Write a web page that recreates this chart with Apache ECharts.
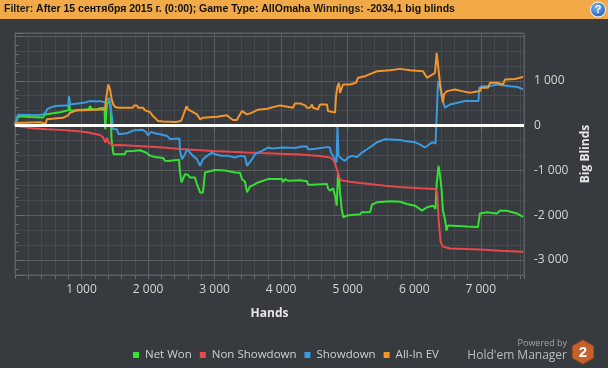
<!DOCTYPE html>
<html><head><meta charset="utf-8">
<script src="https://cdn.jsdelivr.net/npm/echarts@6/dist/echarts.min.js"></script>
<style>html,body{margin:0;padding:0;background:#373a3e;overflow:hidden}#c{width:608px;height:368px}</style>
</head><body><div id="c"></div>
<script>
// ---- data (hands, big blinds) ----
const seriesNames = ['Net Won', 'Non Showdown', 'Showdown', 'All-In EV'];
const seriesColors = ['#35e035', '#e8474b', '#3a9be0', '#f2962c'];

const netWonHands = [0,15,38,75,225,421,451,571,676,767,804,815,824,902,1052,1112,1127,1150,1232,1278,1345,1356,1371,1383,1420,1435,1450,1480,1653,1668,1774,1789,1879,1909,1969,1999,2029,2104,2225,2255,2300,2330,2465,2480,2502,2525,2555,2600,2630,2705,2735,2781,2826,2856,3006,3156,3307,3382,3412,3457,3487,3517,3532,3607,3652,3803,4013,4028,4058,4103,4284,4389,4404,4464,4479,4689,4704,4734,4780,4810,4835,4855,4870,4885,4910,4934,4960,4990,5185,5215,5336,5366,5441,5636,5787,5892,6012,6117,6192,6282,6320,6338,6365,6387,6410,6432,6462,6485,6507,6793,6958,6981,6988,7094,7244,7289,7394,7410,7545,7635];
const netWonValues = [0,60,170,210,190,180,250,275,300,330,340,620,340,345,360,370,436,370,360,390,400,-80,-60,500,540,470,-300,-640,-640,-570,-565,-540,-550,-560,-600,-640,-670,-700,-720,-786,-790,-750,-760,-1045,-1268,-1268,-1082,-1100,-1156,-1156,-1305,-1490,-1490,-1045,-990,-1000,-1045,-1050,-1193,-1250,-1490,-1480,-1360,-1305,-1268,-1193,-1190,-1260,-1190,-1230,-1220,-1240,-1320,-1320,-1290,-1300,-1400,-1452,-1400,-1564,-1786,-1045,-1190,-1490,-1860,-2045,-2045,-2008,-1980,-1934,-1934,-1760,-1711,-1690,-1700,-1748,-1786,-1896,-1822,-1786,-1860,-1300,-897,-1100,-1400,-1900,-2082,-2341,-2230,-2250,-2260,-2260,-1960,-1934,-1960,-1896,-1900,-1940,-1960,-2034];

const nonShowdownHands = [0,75,271,481,676,872,1082,1172,1278,1323,1360,1383,1405,1428,1473,1578,1774,1984,2225,2480,2735,2976,3231,3487,3682,3983,4284,4584,4734,4780,4810,4840,4870,4900,5035,5185,5336,5561,5832,6087,6321,6345,6367,6397,6432,6538,6988,7289,7635];
const nonShowdownValues = [0,-20,-60,-80,-95,-115,-150,-175,-210,-260,-378,-270,-378,-415,-437,-430,-450,-468,-490,-520,-545,-565,-585,-600,-610,-625,-645,-680,-710,-760,-850,-980,-1150,-1220,-1253,-1282,-1304,-1340,-1378,-1400,-1415,-1500,-2100,-2600,-2700,-2740,-2763,-2790,-2815];

const showdownHands = [0,15,45,75,225,331,421,466,481,526,601,767,801,809,827,977,1067,1097,1127,1157,1232,1278,1308,1353,1383,1413,1443,1458,1473,1533,1556,1683,1774,1909,1969,1999,2044,2104,2179,2285,2330,2360,2472,2480,2510,2555,2585,2630,2675,2735,2781,2811,2826,2886,2961,3006,3111,3201,3231,3307,3382,3457,3487,3517,3562,3607,3652,3712,3803,3863,4028,4208,4314,4389,4404,4464,4479,4689,4734,4749,4795,4832,4847,4862,4915,4960,5005,5065,5140,5215,5291,5366,5441,5561,5787,5862,6012,6102,6162,6207,6267,6320,6338,6353,6362,6387,6410,6432,6462,6492,6538,6568,6763,6966,6978,7019,7139,7169,7244,7259,7440,7560,7635];
const showdownValues = [0,120,240,251,235,229,250,300,362,400,436,450,450,660,473,500,520,560,547,510,540,547,525,520,560,620,590,200,-82,-82,-193,-170,-110,-90,-142,-216,-140,-171,-193,-230,-300,-280,-290,-564,-749,-638,-527,-600,-675,-749,-897,-897,-749,-675,-601,-638,-675,-675,-712,-712,-675,-690,-897,-860,-749,-638,-601,-564,-490,-512,-490,-500,-468,-468,-527,-527,-500,-480,-490,-600,-712,-823,-10,-675,-749,-786,-712,-675,-700,-601,-527,-453,-370,-304,-320,-341,-370,-437,-489,-437,-370,-400,214,807,992,900,659,548,400,437,470,511,548,548,844,881,881,918,918,881,881,860,807];

const allInEVHands = [0,15,30,376,391,466,476,496,721,736,797,827,932,1278,1353,1368,1402,1428,1453,1477,1503,1548,1774,1789,1834,1849,1924,1954,2029,2074,2119,2149,2225,2420,2495,2525,2578,2600,2675,2735,2781,2811,2826,3036,3051,3186,3231,3276,3337,3352,3382,3412,3487,3562,3607,3652,3788,3803,3983,4013,4028,4178,4208,4284,4314,4359,4389,4434,4464,4479,4554,4584,4689,4704,4810,4825,4847,4870,4885,4930,5035,5125,5155,5261,5291,5381,5441,5636,5787,5937,6132,6162,6192,6207,6312,6338,6352,6387,6410,6432,6447,6492,6613,6718,6838,6988,7004,7109,7139,7244,7259,7334,7364,7515,7590,7635];
const allInEVValues = [0,60,80,75,44,44,140,155,175,200,230,288,340,362,362,585,918,807,585,473,420,400,400,451,451,400,400,340,300,214,150,103,90,80,103,214,436,362,303,251,140,103,177,199,214,229,177,125,125,177,177,325,251,290,325,355,377,421,451,466,436,399,495,495,451,451,399,399,473,399,362,473,473,325,290,658,880,955,732,918,918,955,1066,1103,1140,1177,1214,1237,1266,1237,1214,1177,1066,1100,1177,1622,1580,955,733,511,696,770,807,770,733,770,844,844,955,955,918,918,1029,1040,1066,1089];

const xMin = 0, xMax = 7650, xMajor = 1000, xMinor = 200;
const yMin = -10000 / 3, yMax = 6200 / 3, yMinorGrid = 1000 / 3;
const yLabelValues = [-3000, -2000, -1000, 0, 1000];

const filterText = 'After 15 сентября 2015 г. (0:00); Game Type: AllOmaha';
const winningsText = '-2034,1 big blinds';

// ---- build ----
function zip(h, v) { const n = Math.min(h.length, v.length); const out = []; for (let i = 0; i < n; i++) out.push([h[i], v[i]]); return out; }
function fmt(v) {
  const r = Math.round(v);
  const s = Math.abs(r).toString().replace(/\B(?=(\d{3})+(?!\d))/g, ' ');
  return (r < 0 ? '-' : '') + s;
}
function fmtY(v) { return yLabelValues.indexOf(Math.round(v)) >= 0 ? fmt(v) : ''; }
const pairs = [[netWonHands, netWonValues], [nonShowdownHands, nonShowdownValues], [showdownHands, showdownValues], [allInEVHands, allInEVValues]];
const lineSeries = pairs.map((p, i) => ({
  name: seriesNames[i], type: 'line', xAxisIndex: 0, yAxisIndex: 0,
  data: zip(p[0], p[1]), showSymbol: false, symbol: 'none',
  lineStyle: { width: 2, color: seriesColors[i] }, itemStyle: { color: seriesColors[i] },
  z: 3, animation: false
}));
lineSeries.push({
  type: 'line', data: [], xAxisIndex: 0, yAxisIndex: 0, z: 5, silent: true,
  markLine: { symbol: 'none', silent: true, animation: false, label: { show: false },
    lineStyle: { color: '#ffffff', width: 3, type: 'solid' }, data: [{ yAxis: 0 }] }
});

const FONT = '"Open Sans", "Noto Sans", sans-serif';
const minorCol = '#46494d', majorCol = '#5a5d61', textCol = '#d6d6d6';

const chart = echarts.init(document.getElementById('c'), null, { renderer: 'canvas' });
chart.setOption({
  backgroundColor: '#373a3e',
  animation: false,
  title: {
    left: 4, top: 4, padding: 0,
    text: '{n|Filter: }{b|' + filterText + '}{n| Winnings: }{b|' + winningsText + '}',
    textStyle: { rich: {
      n: { fontFamily: '"Liberation Sans", Arial, sans-serif', fontSize: 10.5, color: '#1e1e1e' },
      b: { fontFamily: '"Liberation Sans", Arial, sans-serif', fontSize: 10.5, fontWeight: 'bold', color: '#111' }
    } }
  },
  grid: { left: 15, right: 84, top: 33, bottom: 93, show: true, borderColor: '#5c5f63', borderWidth: 1, backgroundColor: 'transparent' },
  legend: {
    data: seriesNames, left: 133, top: 349, padding: 0, icon: 'rect', itemWidth: 6, itemHeight: 6, itemGap: 8,
    textStyle: { color: '#d0d0d0', fontSize: 11.5, fontFamily: FONT, padding: [0, 0, 0, 1] },
    inactiveColor: '#777'
  },
  xAxis: [{
    type: 'value', min: xMin, max: xMax, interval: xMajor, position: 'bottom',
    name: 'Hands', nameLocation: 'middle', nameGap: 33,
    nameTextStyle: { color: '#e6e6e6', fontWeight: 'bold', fontSize: 12, fontFamily: FONT },
    axisLine: { show: false },
    axisTick: { show: true, length: 6, lineStyle: { color: '#6a6d71' } },
    axisLabel: { color: textCol, fontSize: 12, fontFamily: FONT, margin: 9, showMinLabel: false, showMaxLabel: false, formatter: fmt },
    splitLine: { show: true, lineStyle: { color: majorCol, width: 1 } }
  }, {
    type: 'value', min: 0, max: (xMax - xMin) / xMinor, interval: 1, position: 'bottom',
    axisLine: { show: false }, axisLabel: { show: false },
    axisTick: { show: true, length: 4, lineStyle: { color: '#6a6d71' } },
    splitLine: { show: true, lineStyle: { color: minorCol, width: 1 } }, z: -1
  }],
  yAxis: [{
    type: 'value', min: yMin, max: yMax, splitNumber: 5, position: 'right',
    name: 'Big Blinds', nameLocation: 'middle', nameGap: 45,
    nameTextStyle: { color: '#e6e6e6', fontWeight: 'bold', fontSize: 12, fontFamily: FONT },
    axisLine: { show: false },
    axisTick: { show: true, length: 8, lineStyle: { color: '#6a6d71' } },
    minorTick: { show: true, splitNumber: 5, length: 4, lineStyle: { color: '#6a6d71' } },
    axisLabel: { color: textCol, fontSize: 12, fontFamily: FONT, margin: 10, showMinLabel: false, showMaxLabel: false, formatter: fmtY },
    splitLine: { show: true, lineStyle: { color: majorCol, width: 1 } }
  }, {
    type: 'value', min: 0, max: (yMax - yMin) / yMinorGrid, interval: 1, position: 'right',
    axisLine: { show: false }, axisLabel: { show: false }, axisTick: { show: false },
    splitLine: { show: true, lineStyle: { color: minorCol, width: 1 } }, z: -1
  }],
  series: lineSeries,
  graphic: [
    { type: 'rect', z: -10, shape: { x: 0, y: 0, width: 608, height: 19 }, style: { fill: '#f2aa48' } },
    { type: 'circle', z: 10, shape: { cx: 598, cy: 9.5, r: 7.5 },
      style: { fill: new echarts.graphic.RadialGradient(0.4, 0.35, 0.7, [{ offset: 0, color: '#7fb8f0' }, { offset: 1, color: '#1a5cb4' }]), stroke: '#ffffff', lineWidth: 1 } },
    { type: 'text', z: 11, style: { x: 598, y: 10, text: '?', fill: '#fff', font: 'bold 11px "Liberation Sans", Arial', align: 'center', verticalAlign: 'middle' } },
    { type: 'text', style: { x: 567, y: 343, text: 'Powered by', fill: '#a3a3a3', font: '9px ' + FONT, align: 'right', verticalAlign: 'middle' } },
    { type: 'text', style: { x: 567, y: 356, text: "Hold'em Manager", fill: '#bcbcbc', font: '12px ' + FONT, align: 'right', verticalAlign: 'middle' } },
    { type: 'polygon', shape: { points: [[583, 340], [593.5, 346], [593.5, 358], [583, 364], [572.5, 358], [572.5, 346]] },
      style: { fill: '#c4612c', stroke: '#a04a1e', lineWidth: 1 } },
    { type: 'text', z: 5, style: { x: 583, y: 352.5, text: '2', fill: '#ffffff', font: 'bold 15px "Liberation Sans", Arial', align: 'center', verticalAlign: 'middle' } }
  ]
});
</script></body></html>
